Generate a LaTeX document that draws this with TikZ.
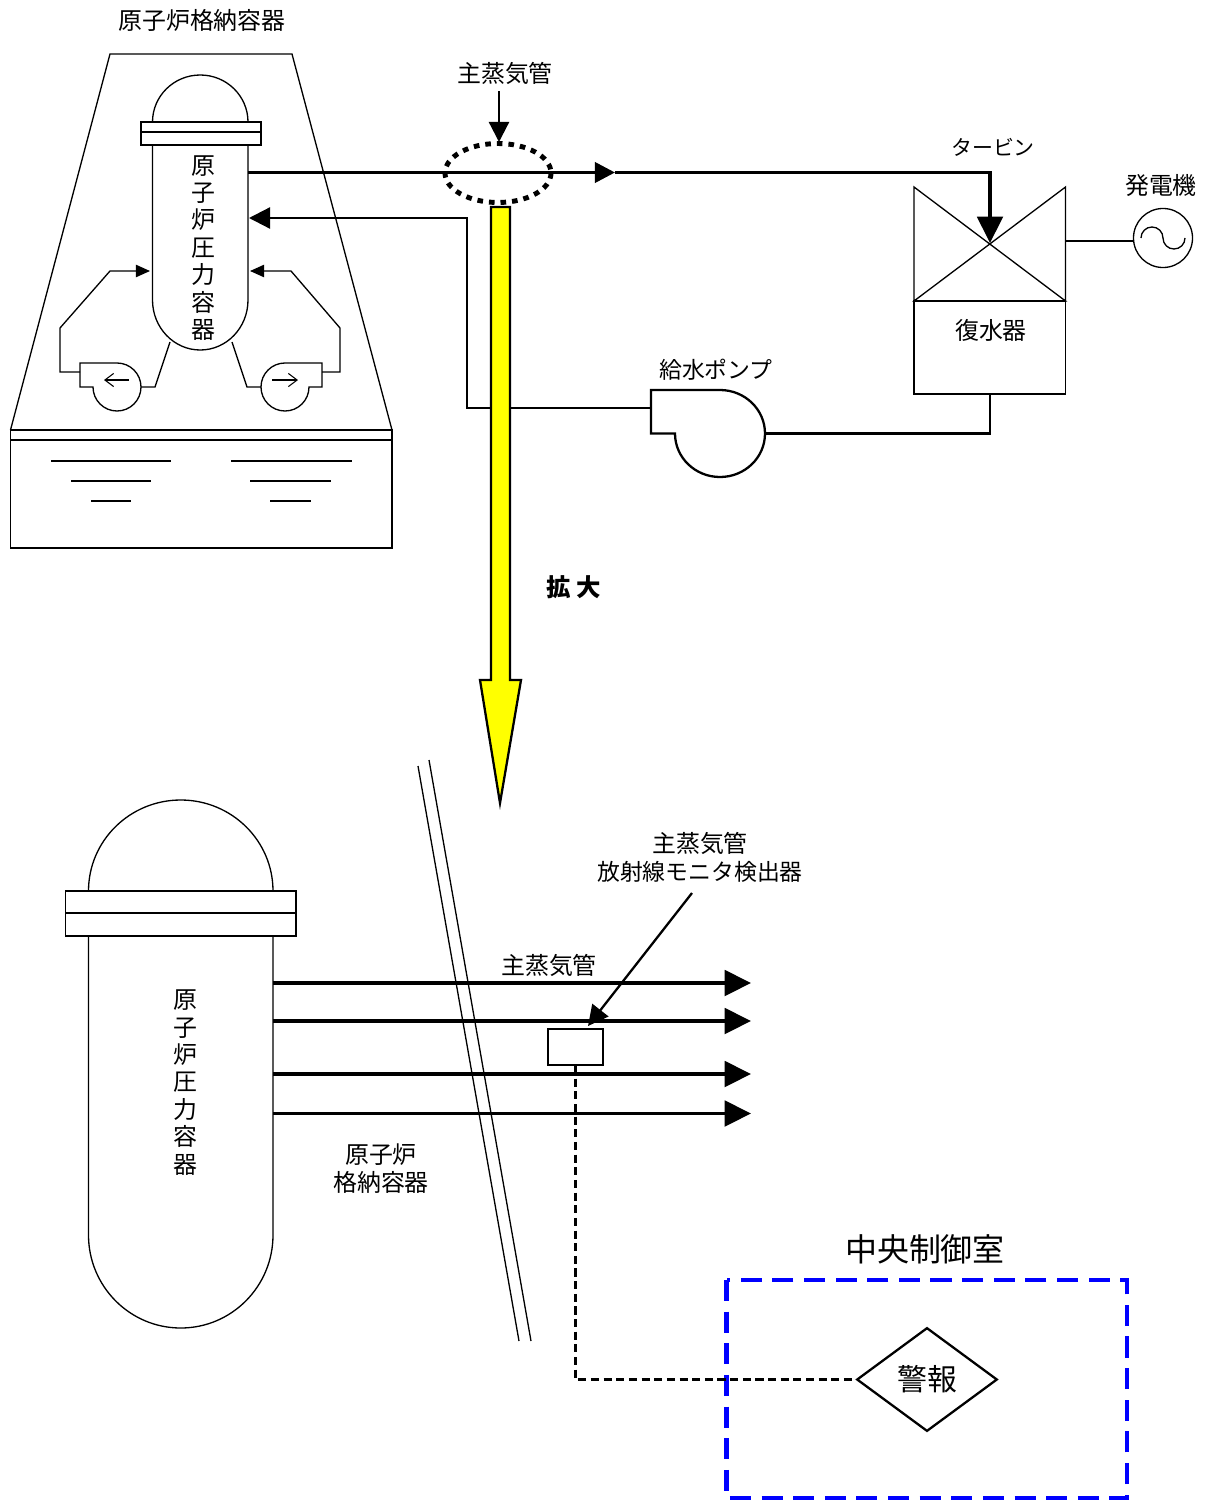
\documentclass[tikz,border=0pt]{standalone}
\usepackage{fontspec}
\setmainfont{Noto Sans CJK JP}
\usetikzlibrary{arrows.meta,shapes.geometric}

\definecolor{arrowyellow}{RGB}{255,255,0}
\definecolor{roomblue}{RGB}{0,0,255}

\tikzset{
    thinline/.style={line width=0.75pt},
    feedline/.style={line width=1.3pt},
    steamline/.style={line width=2.1pt},
    label/.style={inner sep=0pt, font=\fontsize{13.6}{15.6}\selectfont, align=center},
    kanalabel/.style={label, font=\fontsize{13}{15.6}\selectfont},
    smalltip/.tip={Triangle[length=8pt,width=7pt]},
    opentip/.tip={Straight Barb[length=5pt,width=7.5pt,line width=0.6pt]},
    midtip/.tip={Triangle[length=11.5pt,width=11.5pt]},
    bigtip/.tip={Triangle[length=15pt,width=14.5pt]},
}

\begin{document}
\begin{tikzpicture}[x=0.02cm, y=-0.02cm]
    \useasboundingbox (0,0) rectangle (1207,1501);

    % containment building and pool
    \draw[thinline] (10.5,430) -- (110,54) -- (292,54) -- (392,430);
    \draw[thinline] (10.5,430) rectangle (392,548);
    \draw[thinline] (10.5,440) -- (392,440);
    \foreach \xa/\xb/\ya in {51/171/461, 71/151/481, 91/131/501, 231/352/461, 250/331/481, 270/311/501}
        \draw[thinline] (\xa,\ya) -- (\xb,\ya);
    \node[label] (topcv) at (202,20.5) {原子炉格納容器};

    % upper pressure vessel
    \draw[thinline, fill=white] (152.5,122) arc[start angle=180, end angle=360, x radius=47.75, y radius=47]
        -- (248,300) arc[start angle=0, end angle=180, x radius=47.75, y radius=50] -- cycle;
    \draw[thinline, fill=white] (141,122) rectangle (261,145);
    \draw[thinline] (141,132) -- (261,132);
    \node[label] (toprpv) at (203,248) {原\\子\\炉\\圧\\力\\容\\器};

    % recirculation pumps
    \coordinate (rpvleft) at (150,271);
    \coordinate (rpvright) at (250,271);
    \draw[thinline] (80,363) -- (117,363) arc[start angle=270, end angle=540, x radius=24, y radius=24] -- (80,387) -- cycle;
    \draw[thinline] (322,363) -- (285,363) arc[start angle=270, end angle=0, x radius=24, y radius=24] -- (322,387) -- cycle;
    \draw[thinline, -{smalltip}] (80,372) -- (60,372) -- (60,328) -- (110,271) -- (rpvleft);
    \draw[thinline, -{smalltip}] (322,372) -- (340,372) -- (340,328) -- (291,271) -- (rpvright);
    \draw[thinline] (141,387) -- (155,387) -- (170,342);
    \draw[thinline] (261,387) -- (247,387) -- (232,342);
    \draw[thinline, -{opentip}] (129,380) -- (104,380);
    \draw[thinline, -{opentip}] (272,380) -- (298,380);

    % steam and feedwater lines
    \coordinate (steamout) at (248,172.5);
    \coordinate (steammid) at (615,172.5);
    \coordinate (feedin) at (249,218);
    \coordinate (turbin) at (990,243);
    \draw[steamline, -{midtip}] (steamout) -- (steammid);
    \draw[steamline, -{bigtip}] (steammid) -- (990,172.5) -- (turbin);
    \draw[feedline, -{bigtip[length=12pt,width=12pt]}] (651,408) -- (467,408) -- (467,218) -- (feedin);
    \draw[feedline] (765,433.5) -- (990,433.5) -- (990,394);

    % feedwater pump
    \draw[feedline] (651,390) -- (720,390) arc[start angle=270, end angle=540, x radius=45, y radius=43.5] -- (651,433.5) -- cycle;
    \node[kanalabel] (feedpump) at (716,370) {給水ポンプ};

    % turbine, condenser and generator
    \draw[thinline] (914,301) -- (914,187) -- (1065.5,301) -- (914,301) -- (1065.5,187) -- (1065.5,301);
    \draw[thinline] (914,301) rectangle (1065.5,394);
    \node[label, font=\fontsize{11.9}{15.6}\selectfont] (turbine) at (993,147) {タービン};
    \node[label] (condenser) at (991,330.5) {復水器};
    \node[label] (genlabel) at (1161,185.5) {発電機};
    \node[thinline, draw, circle, inner sep=0pt, minimum size=33.6pt] (gen) at (1163,238) {};
    \coordinate (genline) at (1066,241);
    \draw[thinline] (genline) -- (gen.west |- genline);
    \draw[thinline] (1141,238) arc[start angle=180, end angle=360, radius=11]
        arc[start angle=180, end angle=0, radius=11];

    % main steam marker
    \node[label] (steamtop) at (505,73.5) {主蒸気管};
    \coordinate (markertip) at (499,142);
    \draw[feedline, -{bigtip[length=11.5pt,width=11.5pt]}] (499,91) -- (markertip);
    \draw[line width=2.8pt, dash pattern=on 3.2pt off 3.4pt] (498,173) ellipse[x radius=53, y radius=29.5];

    % magnify arrow
    \draw[feedline, fill=arrowyellow] (491,207) -- (510,207) -- (510,680) -- (521,680) -- (500,803) -- (480,680) -- (491,680) -- cycle;
    \node[label, font=\fontsize{13.9}{15.6}\selectfont\bfseries] (magnify) at (574,587) {拡 大};

    % lower pressure vessel
    \draw[thinline] (88.5,891) arc[start angle=180, end angle=360, x radius=92.25, y radius=91]
        -- (273,1235) arc[start angle=0, end angle=180, x radius=92.25, y radius=93] -- cycle;
    \draw[thinline, fill=white] (65.5,891) rectangle (296,936);
    \draw[thinline] (65.5,913) -- (296,913);
    \node[label] (lowrpv) at (185,1082.5) {原\\子\\炉\\圧\\力\\容\\器};

    % containment wall
    \draw[thinline] (418,766) -- (519,1341);
    \draw[thinline] (429,760) -- (531,1341);
    \node[label] (lowcv) at (381,1168.5) {原子炉\\格納容器};

    % main steam pipes
    \foreach \ya in {983, 1021, 1074, 1113.5}
        \draw[steamline, -{bigtip}] (273,\ya) -- (751,\ya);
    \node[label] (steamlow) at (549,965.5) {主蒸気管};

    % detector
    \node[feedline, draw, fill=white, inner sep=0pt, minimum width=31.2pt, minimum height=20.4pt] (detector) at (575.5,1047) {};
    \node[kanalabel] (detlabel) at (700,857.5) {{\fontsize{13.6}{15.6}\selectfont 主蒸気管}\\放射線モニタ検出器};
    \coordinate (detline) at (692,893);
    \coordinate (dettip) at (588,1026);
    \draw[feedline, -{bigtip[length=11.5pt,width=11.5pt]}] (detline) -- (dettip);

    % central control room
    \node[label, font=\fontsize{18.2}{20}\selectfont] (ccr) at (925,1249) {中央制御室};
    \draw[line width=2.3pt, roomblue, dash pattern=on 12pt off 6pt] (726.5,1280) rectangle (1127,1498);
    \node[feedline, draw, diamond, aspect=1.355, inner sep=0pt, minimum width=80pt, minimum height=59pt,
        font=\fontsize{17}{20}\selectfont] (alarm) at (927,1379.5) {警報};
    \draw[line width=1.2pt, dash pattern=on 4.6pt off 2.6pt] (detector.south) -- (detector.south |- alarm.west) -- (alarm.west);
\end{tikzpicture}
\end{document}
